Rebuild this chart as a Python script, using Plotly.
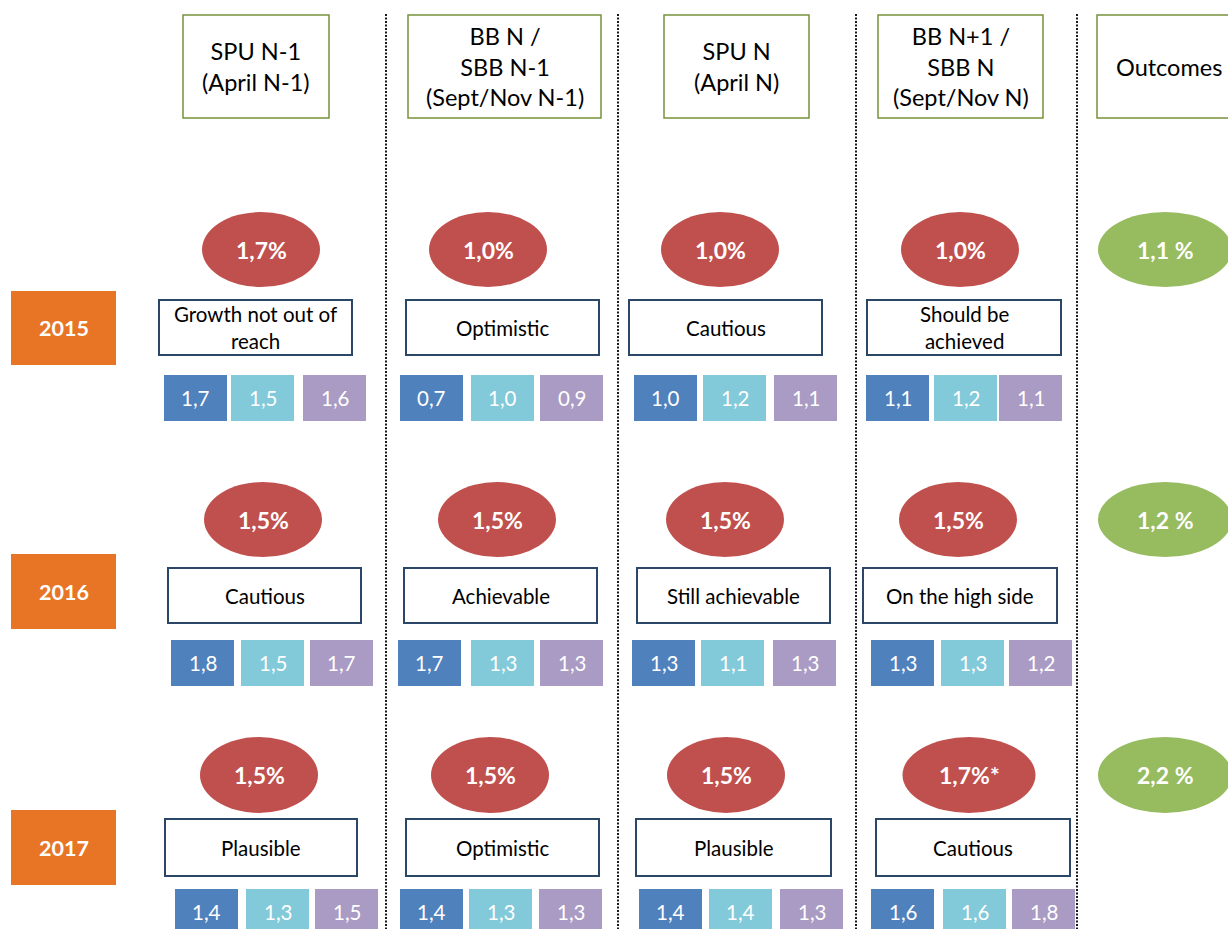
import plotly.graph_objects as go

# ---- content -------------------------------------------------------------
YEARS = ["2015", "2016", "2017"]
STAGES = [
    "SPU N-1<br>(April N-1)",
    "BB N /<br>SBB N-1<br>(Sept/Nov N-1)",
    "SPU N<br>(April N)",
    "BB N+1 /<br>SBB N<br>(Sept/Nov N)",
    "Outcomes",
]
# headline growth forecast (%) per year and stage
FORECAST = [
    [1.7, 1.0, 1.0, 1.0],
    [1.5, 1.5, 1.5, 1.5],
    [1.5, 1.5, 1.5, 1.7],
]
FORECAST_NOTE = [
    ["", "", "", ""],
    ["", "", "", ""],
    ["", "", "", "*"],
]
ASSESSMENT = [
    ["Growth not out of<br>reach", "Optimistic", "Cautious", "Should be<br>achieved"],
    ["Cautious", "Achievable", "Still achievable", "On the high side"],
    ["Plausible", "Optimistic", "Plausible", "Cautious"],
]
# three benchmark forecasts shown under each assessment
BENCH_BLUE = [
    [1.7, 0.7, 1.0, 1.1],
    [1.8, 1.7, 1.3, 1.3],
    [1.4, 1.4, 1.4, 1.6],
]
BENCH_TEAL = [
    [1.5, 1.0, 1.2, 1.2],
    [1.5, 1.3, 1.1, 1.3],
    [1.3, 1.3, 1.4, 1.6],
]
BENCH_PURPLE = [
    [1.6, 0.9, 1.1, 1.1],
    [1.7, 1.3, 1.3, 1.2],
    [1.5, 1.3, 1.3, 1.8],
]
OUTCOME = [1.1, 1.2, 2.2]

# ---- geometry (page pixels) ---------------------------------------------
W, H = 1228, 929
HEADER_X = [(183, 329), (408, 601), (664, 809), (878, 1043), (1097, 1241)]
HEADER_Y = (15, 118)
DIVIDER_X = [386, 618, 856, 1077]
DIVIDER_Y = (14, 929)
YEAR_BOX_X = (11, 116)
YEAR_BOX_Y = [(291, 365), (554, 629), (810, 885)]
ELLIPSE_Y = [(212, 287), (482, 557), (737, 813)]
ELLIPSE_CX = [[261, 488, 720, 960], [263, 497, 725, 958], [259, 490, 726, 969]]
ELLIPSE_W = 118
ELLIPSE_W_NOTE = 133
OUTCOME_X = (1098, 1232)
DESC_Y = [(300, 355), (568, 623), (819, 876)]
DESC_X = [
    [(159, 352), (406, 599), (629, 822), (867, 1061)],
    [(168, 361), (404, 597), (637, 830), (863, 1057)],
    [(165, 357), (406, 599), (636, 831), (876, 1070)],
]
SQUARE_Y = [(375, 421), (640, 686), (889, 935)]
SQUARE_X0 = [
    [[164, 231, 303], [400, 471, 540], [634, 703, 774], [866, 934, 999]],
    [[171, 241, 310], [398, 471, 540], [632, 701, 773], [871, 941, 1009]],
    [[175, 246, 315], [400, 469, 539], [639, 709, 780], [871, 943, 1012]],
]
SQUARE_W = 63

# ---- style ---------------------------------------------------------------
FONT = "Lato"
C_HEADER_LINE = "#77933C"
C_DESC_LINE = "#2B4767"
C_YEAR = "#E87526"
C_FORECAST = "#C0504D"
C_OUTCOME = "#97BB5F"
C_BENCH = ["#4F81BD", "#82C9D9", "#A99BC3"]
SIZE_HEADER = 23.5
SIZE_DESC = 20.5
SIZE_BENCH = 20.5
SIZE_BUBBLE = 23
SIZE_YEAR = 21.5


def fmt(v):
    return f"{v:.1f}".replace(".", ",")


shapes = []
annotations = []


def label(x, y, text, size, color="black", bold=False):
    annotations.append(dict(
        x=x, y=y, xref="x", yref="y", text=f"<b>{text}</b>" if bold else text,
        showarrow=False, xanchor="center", yanchor="middle",
        font=dict(family=FONT, size=size, color=color), align="center",
    ))


# dotted column dividers
for dx in DIVIDER_X:
    shapes.append(dict(type="line", xref="x", yref="y", x0=dx, x1=dx,
                       y0=DIVIDER_Y[0], y1=DIVIDER_Y[1], layer="below",
                       line=dict(color="#1A1A1A", width=2, dash="2px,1.5px")))

# stage headers
for (x0, x1), text in zip(HEADER_X, STAGES):
    shapes.append(dict(type="rect", xref="x", yref="y", x0=x0, x1=x1,
                       y0=HEADER_Y[0], y1=HEADER_Y[1], fillcolor="white",
                       line=dict(color=C_HEADER_LINE, width=1.5)))
    label((x0 + x1) / 2, (HEADER_Y[0] + HEADER_Y[1]) / 2, text, SIZE_HEADER)

for r, year in enumerate(YEARS):
    # year tag
    y0, y1 = YEAR_BOX_Y[r]
    shapes.append(dict(type="rect", xref="x", yref="y", x0=YEAR_BOX_X[0], x1=YEAR_BOX_X[1],
                       y0=y0, y1=y1, fillcolor=C_YEAR, line=dict(width=0)))
    label(sum(YEAR_BOX_X) / 2, (y0 + y1) / 2, year, SIZE_YEAR, "white", True)

    ey0, ey1 = ELLIPSE_Y[r]
    for c in range(4):
        # headline forecast bubble
        note = FORECAST_NOTE[r][c]
        ew = ELLIPSE_W_NOTE if note else ELLIPSE_W
        cx = ELLIPSE_CX[r][c]
        shapes.append(dict(type="circle", xref="x", yref="y", x0=cx - ew / 2, x1=cx + ew / 2,
                           y0=ey0, y1=ey1, fillcolor=C_FORECAST, line=dict(width=0)))
        label(cx, (ey0 + ey1) / 2, fmt(FORECAST[r][c]) + "%" + note, SIZE_BUBBLE, "white", True)

        # assessment box
        dx0, dx1 = DESC_X[r][c]
        dy0, dy1 = DESC_Y[r]
        shapes.append(dict(type="rect", xref="x", yref="y", x0=dx0, x1=dx1, y0=dy0, y1=dy1,
                           fillcolor="white", line=dict(color=C_DESC_LINE, width=2)))
        label((dx0 + dx1) / 2, (dy0 + dy1) / 2, ASSESSMENT[r][c], SIZE_DESC)

        # benchmark forecasts
        sy0, sy1 = SQUARE_Y[r]
        for k, vals in enumerate((BENCH_BLUE, BENCH_TEAL, BENCH_PURPLE)):
            sx0 = SQUARE_X0[r][c][k]
            shapes.append(dict(type="rect", xref="x", yref="y", x0=sx0, x1=sx0 + SQUARE_W,
                               y0=sy0, y1=sy1, fillcolor=C_BENCH[k], line=dict(width=0)))
            label(sx0 + SQUARE_W / 2, (sy0 + sy1) / 2, fmt(vals[r][c]), SIZE_BENCH, "white")

    # realised outcome bubble
    shapes.append(dict(type="circle", xref="x", yref="y", x0=OUTCOME_X[0], x1=OUTCOME_X[1],
                       y0=ey0, y1=ey1, fillcolor=C_OUTCOME, line=dict(width=0)))
    label(sum(OUTCOME_X) / 2, (ey0 + ey1) / 2, fmt(OUTCOME[r]) + " %", SIZE_BUBBLE, "white", True)

fig = go.Figure()
fig.update_layout(
    width=W, height=H, margin=dict(l=0, r=0, t=0, b=0),
    paper_bgcolor="white", plot_bgcolor="white",
    xaxis=dict(range=[0, W], visible=False, fixedrange=True),
    yaxis=dict(range=[H, 0], visible=False, fixedrange=True),
    shapes=shapes, annotations=annotations, showlegend=False,
)
fig.write_html("out.html", config={"displayModeBar": False})
